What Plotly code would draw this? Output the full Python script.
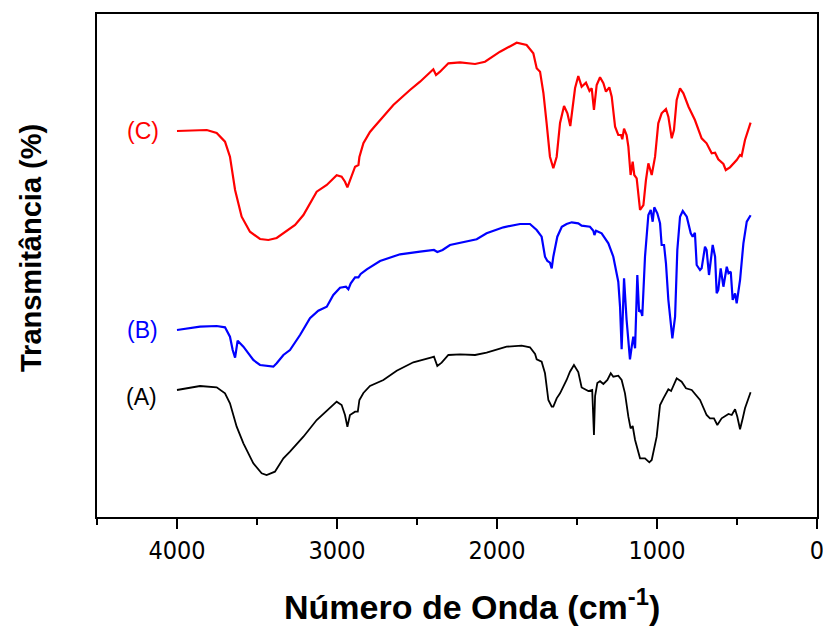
import plotly.graph_objects as go

# Wavenumber (cm-1) and transmittance (arbitrary units, spectra offset)
wn_c = [4000, 3900, 3814, 3752, 3700, 3669, 3637, 3596, 3544, 3481, 3429, 3377, 3335, 3262, 3210, 3127, 3064,
        3002, 2971, 2950, 2935, 2919, 2887, 2866, 2860, 2835, 2794, 2773, 2710, 2648, 2544, 2481, 2398, 2381,
        2356, 2304, 2231, 2137, 2075, 1981, 1877, 1815, 1773, 1752, 1731, 1710, 1690, 1669, 1648, 1627, 1606,
        1581, 1560, 1542, 1512, 1492, 1471, 1444, 1422, 1408, 1394, 1377, 1356, 1335, 1319, 1298, 1283, 1262,
        1242, 1225, 1217, 1206, 1190, 1179, 1165, 1152, 1142, 1127, 1106, 1085, 1069, 1054, 1033, 1012, 992,
        971, 944, 929, 908, 894, 877, 856, 835, 803, 763, 721, 690, 658, 637, 617, 585, 570, 544, 502, 481,
        471, 450, 415]
t_c = [386, 386.5, 387, 384, 375.3, 360.3, 327, 300.3, 285.3, 278, 277, 279, 284, 292, 302, 325.3, 332,
       341.7, 340.3, 335.3, 329.7, 337, 350.3, 352, 360, 373.7, 385, 389, 400.3, 412, 427, 435.3, 447.7, 442,
       445.3, 453.7, 454.7, 453, 455.3, 465.3, 474.3, 472, 463.7, 448.7, 445.3, 424, 394, 360.3, 348.7, 360.3, 394,
       411, 403.7, 391, 429, 441, 430.3, 434.3, 426, 428.7, 407, 432, 439.7, 433.7, 425.3, 429.7, 420.3, 390.3,
       382, 382, 377.7, 388.3, 382, 370.3, 342, 355.3, 342, 338.7, 307, 312, 337, 353.7, 342, 360.3, 393.7,
       403.7, 408, 400.3, 378.7, 387, 417, 428.7, 423.7, 410.3, 397, 378.7, 373.7, 363.7, 364.3, 357.7, 353, 347,
       349.7, 357, 362, 361, 377, 394.3]

wn_b = [4000, 3856, 3752, 3700, 3669, 3652, 3637, 3621, 3585, 3523, 3481, 3398, 3377, 3335, 3294, 3231, 3169,
        3117, 3064, 3023, 2981, 2944, 2929, 2914, 2887, 2866, 2852, 2814, 2731, 2606, 2481, 2394, 2373, 2340,
        2294, 2190, 2127, 2065, 1960, 1856, 1794, 1752, 1721, 1700, 1685, 1669, 1658, 1648, 1623, 1595, 1565,
        1533, 1492, 1471, 1419, 1398, 1391, 1381, 1346, 1304, 1273, 1242, 1231, 1221, 1206, 1190, 1169, 1158,
        1148, 1137, 1123, 1112, 1102, 1092, 1075, 1054, 1039, 1027, 1017, 998, 981, 971, 956, 944, 929, 904,
        887, 873, 856, 839, 814, 789, 777, 763, 752, 731, 721, 700, 690, 675, 658, 652, 637, 627, 617, 602,
        585, 564, 553, 539, 527, 512, 502, 481, 460, 439, 415]
t_b = [187, 190.3, 191, 189.7, 180.3, 167, 159.3, 176.3, 170.3, 157, 152, 150.3, 153.7, 162, 167, 182, 198.7,
       206.3, 210.3, 222, 229.3, 230.3, 227.7, 233.7, 239.7, 239.7, 243, 247.7, 256, 262.7, 265.3, 267, 265, 267,
       272, 276, 277.7, 283.7, 289.7, 293, 293, 287, 280.3, 260.3, 256, 254.3, 248.7, 260.3, 280.3, 290.3, 293,
       294.7, 293.7, 291.3, 290.3, 286.3, 282, 286.3, 283.7, 273.7, 260.3, 235.3, 210.3, 167.7, 238.7, 197, 157.7, 170.3,
       180.3, 168.7, 242, 205.3, 207, 201, 260.3, 302, 307, 295.3, 309.7, 303.7, 293.7, 272, 272, 253.7, 217, 178.7,
       200.3, 267, 300.3, 306, 300.3, 283.7, 280.3, 284.3, 252, 247, 248.7, 270.3, 267, 242, 267, 272, 260.3, 223.7, 227, 248.7,
       230.3, 250.3, 243.7, 245.3, 217, 223.7, 213.7, 237, 273.7, 295.3, 301.7]

wn_a = [4000, 3856, 3752, 3700, 3669, 3627, 3585, 3523, 3471, 3440, 3388, 3335, 3294, 3210, 3127, 3054, 3002,
        2971, 2950, 2935, 2919, 2887, 2870, 2860, 2835, 2794, 2710, 2627, 2523, 2408, 2394, 2373, 2346, 2304,
        2231, 2137, 2065, 1940, 1846, 1794, 1762, 1752, 1721, 1700, 1679, 1658, 1648, 1627, 1606, 1565, 1544,
        1519, 1492, 1471, 1429, 1405, 1394, 1387, 1373, 1356, 1335, 1310, 1289, 1273, 1242, 1221, 1200, 1179,
        1165, 1152, 1137, 1106, 1075, 1048, 1033, 1002, 981, 960, 929, 912, 877, 846, 819, 783, 731, 690, 669,
        644, 623, 596, 553, 533, 512, 498, 481, 464, 450, 415]
t_a = [127, 131, 129.7, 123.7, 113.7, 90.3, 73.7, 53.7, 43.7, 42, 45.3, 58.7, 65.3, 80.3, 97, 107.7, 115.3,
       112, 102, 90.3, 102, 105.3, 105.3, 117, 124, 131, 137, 146.3, 154.7, 159.7, 160.3, 151, 154.3, 162,
       162.7, 162, 164.3, 170.3, 171.3, 169.7, 163, 157.7, 155.3, 143.7, 117, 110.3, 110.3, 118.7, 123.7, 137, 145.3,
       152, 145, 129.5, 126, 127, 82, 121, 134, 135.8, 133, 137, 143.7, 140.3, 141.3, 137, 123.7, 100.3,
       88.7, 91, 77, 58.7, 58.7, 54.7, 57, 80.3, 112, 118.7, 127.7, 126, 138.7, 135.3, 128.7, 127, 117, 102, 98.7,
       98.7, 92, 98.7, 103, 102, 107.7, 100.3, 87.7, 98.7, 108.7, 124.7]

labels = ["(A)", "(B)", "(C)"]
label_x = [4220, 4215, 4215]
label_y = [120, 187, 386]
colors = ["#000000", "#0000FF", "#FF0000"]

x_ticks = [4000, 3000, 2000, 1000, 0]

PL, PT, PW, PH = 97, 14, 720, 503  # plot area in pixels

fig = go.Figure()
for wn, t, col, w in [(wn_a, t_a, colors[0], 1.8), (wn_b, t_b, colors[1], 2.2), (wn_c, t_c, colors[2], 2.2)]:
    fig.add_trace(go.Scatter(x=wn, y=t, mode="lines", line=dict(color=col, width=w), showlegend=False,
                             hoverinfo="skip"))

for lab, lx, ly, col in zip(labels, label_x, label_y, colors):
    fig.add_annotation(x=lx, y=ly, text=lab, showarrow=False, xref="x", yref="y",
                       font=dict(family="Liberation Sans, Arial", size=23, color=col))

# axis titles placed as text around the frame
fig.add_annotation(x=(31 - PL) / PW, y=(PT + PH - 248) / PH, xref="paper", yref="paper",
                   text="<b>Transmitância (%)</b>", textangle=-90, showarrow=False,
                   xanchor="center", yanchor="middle",
                   font=dict(family="Liberation Sans, Arial", size=29, color="black"))
fig.add_annotation(x=(472 - PL) / PW, y=(PT + PH - 604) / PH, xref="paper", yref="paper",
                   text="<b>Número de Onda (cm<sup>-1</sup>)</b>", showarrow=False,
                   xanchor="center", yanchor="middle",
                   font=dict(family="Liberation Sans, Arial", size=34, color="black"))

fig.update_layout(
    width=823, height=626,
    margin=dict(l=PL, r=823 - PL - PW, t=PT, b=626 - PT - PH, autoexpand=False),
    paper_bgcolor="white", plot_bgcolor="white",
    xaxis=dict(range=[4500, 0], tickvals=x_ticks, ticktext=[str(v) for v in x_ticks],
               ticks="outside", ticklen=10, tickwidth=2, tickcolor="black",
               minor=dict(dtick=500, ticks="outside", ticklen=6, tickwidth=2, tickcolor="black", showgrid=False),
               showline=True, linecolor="black", linewidth=2, mirror=True, showgrid=False, zeroline=False,
               automargin=False, ticklabeloverflow="allow",
               tickfont=dict(family="Liberation Sans Narrow, DejaVu Sans Condensed, Liberation Sans", size=25,
                             color="black")),
    yaxis=dict(range=[0, 503], showticklabels=False, ticks="", showline=True, linecolor="black",
               linewidth=2, mirror=True, showgrid=False, zeroline=False, automargin=False),
)

fig.write_html("out.html", config={"displayModeBar": False},
               post_script="document.body.style.margin='0px';")
